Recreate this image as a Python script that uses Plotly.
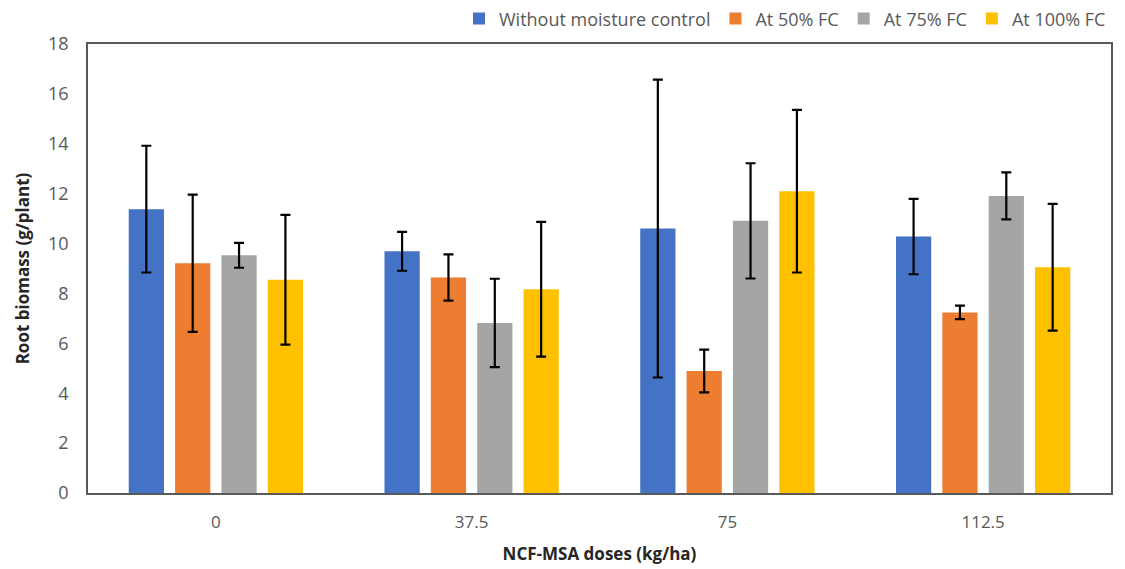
import plotly.graph_objects as go

doses = ["0", "37.5", "75", "112.5"]
series_names = ["Without moisture control", "At 50% FC", "At 75% FC", "At 100% FC"]
without_ctrl = [11.38, 9.69, 10.60, 10.28]
without_ctrl_err = [2.54, 0.78, 5.97, 1.51]
fc50 = [9.21, 8.64, 4.89, 7.24]
fc50_err = [2.75, 0.93, 0.86, 0.27]
fc75 = [9.53, 6.82, 10.91, 11.91]
fc75_err = [0.50, 1.77, 2.31, 0.94]
fc100 = [8.55, 8.17, 12.10, 9.05]
fc100_err = [2.60, 2.70, 3.26, 2.54]

colors = ["#4472C4", "#ED7D31", "#A5A5A5", "#FFC000"]
values = [without_ctrl, fc50, fc75, fc100]
errors = [without_ctrl_err, fc50_err, fc75_err, fc100_err]

font_family = "'Open Sans', sans-serif"

fig = go.Figure()
for name, vals, errs, col in zip(series_names, values, errors, colors):
    fig.add_trace(go.Bar(
        x=doses, y=vals, name=name, marker=dict(color=col, line=dict(width=0)),
        error_y=dict(type="data", array=errs, visible=True, color="black",
                     thickness=2.2, width=5),
    ))

fig.update_layout(
    width=1125, height=569,
    margin=dict(l=88, r=14, t=44, b=76, autoexpand=False),
    paper_bgcolor="white", plot_bgcolor="white",
    barmode="group", bargap=0.275, bargroupgap=0.24,
    font=dict(family=font_family, size=17, color="#595959"),
    legend=dict(orientation="h", x=1.0, xanchor="right", y=1.056, yanchor="middle",
                font=dict(size=18, color="#595959"), traceorder="normal",
                itemwidth=30, bgcolor="rgba(0,0,0,0)"),
    xaxis=dict(
        title=dict(text="<b>NCF-MSA doses (kg/ha)</b>", font=dict(size=17, color="#262626"), standoff=16),
        showline=True, mirror=True, linecolor="#595959", linewidth=1.5,
        ticks="", showgrid=False, tickfont=dict(size=17, color="#595959"),
        ticklabelstandoff=13,
    ),
    yaxis=dict(
        title=dict(text="<b>Root biomass (g/plant)</b>", font=dict(size=17, color="#262626"), standoff=14),
        range=[0, 18], dtick=2, tick0=0,
        showline=True, mirror=True, linecolor="#595959", linewidth=1.5,
        ticks="", showgrid=False, zeroline=False, tickfont=dict(size=18, color="#595959"),
        ticklabelstandoff=14,
    ),
)

fig.write_html("out.html")
